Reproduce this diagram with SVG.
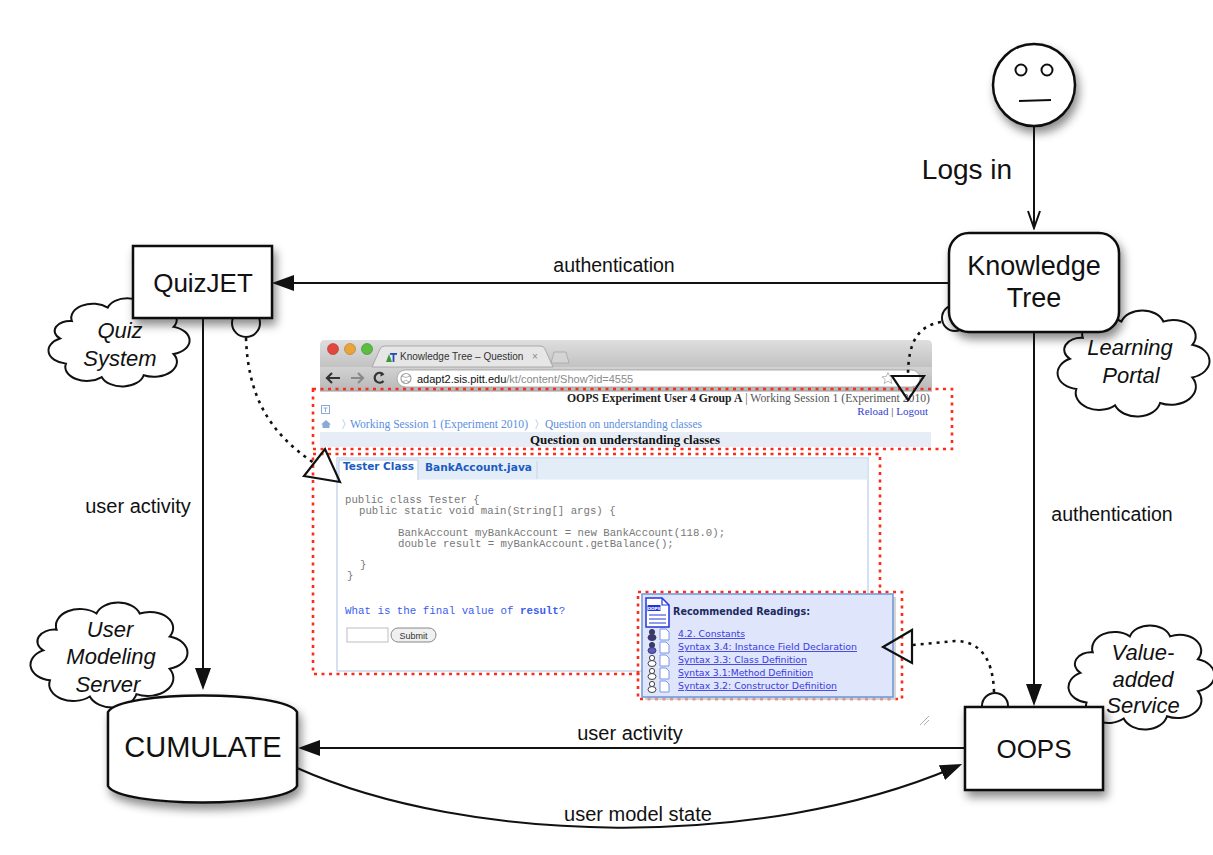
<svg xmlns="http://www.w3.org/2000/svg" width="1213" height="855" viewBox="0 0 1213 855">
  <defs>
    <style>
      .node { fill: #fff; stroke: #111; stroke-width: 2.5; }
      .cloud { fill: #fff; stroke: #111; stroke-width: 2; vector-effect: non-scaling-stroke; }
      .bump { fill: #fff; stroke: #111; stroke-width: 2; }
      .conn { fill: none; stroke: #111; stroke-width: 2; }
      .dots { fill: none; stroke: #111; stroke-width: 2.6; stroke-dasharray: 3 5; }
      .tri { fill: none; stroke: #111; stroke-width: 2.2; stroke-linejoin: miter; }
      .lbl { font-family: "Liberation Sans", Arial, sans-serif; fill: #111; text-anchor: middle; }
      .nodeText { font-family: "Liberation Sans", Arial, sans-serif; fill: #111; text-anchor: middle; }
      .cloudText { font-family: "Liberation Sans", Arial, sans-serif; font-style: italic; font-size: 22px; fill: #111; text-anchor: middle; }
      .redbox { fill: none; stroke: #ff2a1a; stroke-width: 2.6; stroke-dasharray: 3 4.5; }
      .serif { font-family: "Liberation Serif", "Times New Roman", serif; }
      .mono { font-family: "Liberation Mono", "Courier New", monospace; }
      .link { font-family: "DejaVu Sans", Verdana, sans-serif; font-size: 9px; fill: #3a3ae0; text-decoration: underline; }
    </style>
    <filter id="shadow" x="-30%" y="-30%" width="170%" height="180%">
      <feDropShadow dx="3" dy="6" stdDeviation="5" flood-color="#000" flood-opacity="0.45"/>
    </filter>
    <linearGradient id="titleGrad" x1="0" y1="0" x2="0" y2="1">
      <stop offset="0" stop-color="#dedede"/>
      <stop offset="1" stop-color="#c2c2c2"/>
    </linearGradient>
    <linearGradient id="toolGrad" x1="0" y1="0" x2="0" y2="1">
      <stop offset="0" stop-color="#d2d2d2"/>
      <stop offset="1" stop-color="#b8b8b8"/>
    </linearGradient>
    <marker id="head" markerUnits="userSpaceOnUse" markerWidth="24" markerHeight="18" refX="12" refY="8" orient="auto">
      <path d="M0,0 L22,8 L0,16 Z" fill="#111"/>
    </marker>
    <marker id="vhead" markerUnits="userSpaceOnUse" markerWidth="20" markerHeight="14" refX="18" refY="6.5" orient="auto">
      <path d="M1,0.5 L18,6.5 L1,12.5" fill="none" stroke="#111" stroke-width="2"/>
    </marker>
    <path id="cloudShape" class="cloud" d="M20,28 A14.5,14.5 0 0 1 44,14 A13.6,13.6 0 0 1 70,14 A14,14 0 0 1 88,34 A14.5,14.5 0 0 1 88,62 A15.5,15.5 0 0 1 68,84 A14.6,14.6 0 0 1 40,86 A14.5,14.5 0 0 1 16,72 A13.8,13.8 0 0 1 12,46 A10.3,10.3 0 0 1 20,28 Z"/>
  </defs>

  <rect width="1213" height="855" fill="#fff"/>

  <!-- role clouds -->
  <g id="cloud-quiz-system">
    <use href="#cloudShape" transform="translate(42,294) scale(1.495,0.967)"/>
    <text class="cloudText" x="120" y="338">Quiz</text>
    <text class="cloudText" x="120" y="366">System</text>
  </g>
  <g id="cloud-user-modeling">
    <use href="#cloudShape" transform="translate(23.3,597.4) scale(1.663,1.152)"/>
    <text class="cloudText" x="110" y="637">User</text>
    <text class="cloudText" x="111" y="664">Modeling</text>
    <text class="cloudText" x="108" y="692">Server</text>
  </g>
  <g id="cloud-learning-portal">
    <use href="#cloudShape" transform="translate(1050.6,305.3) scale(1.61,1.163)"/>
    <text class="cloudText" x="1130" y="355">Learning</text>
    <text class="cloudText" x="1131" y="383">Portal</text>
  </g>
  <g id="cloud-value-added">
    <use href="#cloudShape" transform="translate(1061.8,620.4) scale(1.547,1.141)"/>
    <text class="cloudText" x="1143" y="660">Value-</text>
    <text class="cloudText" x="1143" y="687">added</text>
    <text class="cloudText" x="1143" y="713">Service</text>
  </g>

  <!-- interface sockets -->
  <g id="sockets">
    <circle class="bump" cx="955" cy="318" r="13"/>
    <circle class="bump" cx="246" cy="323" r="14"/>
    <circle class="bump" cx="995" cy="706" r="13"/>
  </g>

  <!-- browser window with the Knowledge Tree page -->
  <g id="browser">
    <rect x="320" y="391" width="612" height="337" fill="#fff"/>
    <path d="M320,367 L320,345 Q320,340 325,340 L927,340 Q932,340 932,345 L932,367 Z" fill="url(#titleGrad)"/>
    <rect x="320" y="367" width="612" height="24" fill="url(#toolGrad)"/>
    <line x1="320" y1="391" x2="932" y2="391" stroke="#9a9a9a" stroke-width="1"/>
    <circle cx="333" cy="349" r="5.5" fill="#e2463c" stroke="#a33" stroke-width="0.6"/>
    <circle cx="350" cy="349" r="5.5" fill="#eba43a" stroke="#a73" stroke-width="0.6"/>
    <circle cx="367" cy="349" r="5.5" fill="#5cbd3e" stroke="#383" stroke-width="0.6"/>
    <path d="M372,367 L380,349 Q381,346 385,346 L540,346 Q544,346 545,349 L553,367 Z" fill="#e6e6e6" stroke="#9c9c9c" stroke-width="0.8"/>
    <path d="M386,362 L389,354 L392,362 Z" fill="#3a9a3a"/>
    <rect x="390" y="353" width="7" height="1.8" fill="#2250b0"/>
    <rect x="392.6" y="353" width="1.8" height="9" fill="#2250b0"/>
    <text x="400" y="360" font-family="Liberation Sans, Arial, sans-serif" font-size="10" fill="#333">Knowledge Tree – Question</text>
    <text x="535" y="360" font-family="Liberation Sans, Arial, sans-serif" font-size="10" fill="#888" text-anchor="middle">×</text>
    <path d="M551,363 L554,352 L566,352 L569,363 Z" fill="#d4d4d4" stroke="#a4a4a4" stroke-width="0.8"/>
    <path d="M340,378 L327,378 M332,373 L327,378 L332,383" fill="none" stroke="#333" stroke-width="2.2"/>
    <path d="M351,378 L363,378 M358,373 L363,378 L358,383" fill="none" stroke="#8a8a8a" stroke-width="2.2"/>
    <path d="M383,374 A5,5 0 1 0 383.5,381" fill="none" stroke="#333" stroke-width="2.2"/>
    <path d="M380.5,371.5 L384.5,374.5 L380.5,376.5 Z" fill="#333"/>
    <rect x="397" y="370" width="523" height="17" rx="8.5" fill="#fff" stroke="#9a9a9a" stroke-width="0.8"/>
    <circle cx="406" cy="378.5" r="5" fill="none" stroke="#a0a0a0" stroke-width="1.2"/>
    <path d="M402,376 Q406,379 410,376 M403,381.5 Q406,379 409.5,382" fill="none" stroke="#a0a0a0" stroke-width="0.8"/>
    <text x="417" y="382.5" font-family="Liberation Sans, Arial, sans-serif" font-size="11"><tspan fill="#111">adapt2.sis.pitt.edu</tspan><tspan fill="#8a8a8a">/kt/content/Show?id=4555</tspan></text>
    <path d="M888,372.5 L889.8,376.5 L894,376.8 L890.8,379.5 L891.8,383.5 L888,381.3 L884.2,383.5 L885.2,379.5 L882,376.8 L886.2,376.5 Z" fill="none" stroke="#b0b0b0" stroke-width="0.9"/>

    <!-- page header -->
    <text class="serif" x="930" y="402" text-anchor="end" font-size="11.5" textLength="363" lengthAdjust="spacingAndGlyphs"><tspan font-weight="bold" fill="#222">OOPS Experiment User 4 Group A</tspan><tspan fill="#555"> | Working Session 1 (Experiment 2010)</tspan></text>
    <text class="serif" x="928" y="415" text-anchor="end" font-size="11" fill="#3340d0">Reload <tspan fill="#333">|</tspan> Logout</text>
    <rect x="321.5" y="405.5" width="8" height="8" fill="#fff" stroke="#8aaad8" stroke-width="1"/>
    <path d="M323.5,408 L327.5,408 M325.5,408 L325.5,412" stroke="#8aaad8" stroke-width="1"/>
    <path d="M321,424.5 L326,420 L331,424.5 L329.5,424.5 L329.5,428 L322.5,428 L322.5,424.5 Z" fill="#8aaad8"/>
    <text class="serif" x="341" y="428" font-size="11" fill="#6a98e0">〉</text>
    <text class="serif" x="350" y="428" font-size="11.5" fill="#5b8ee0" textLength="178" lengthAdjust="spacingAndGlyphs">Working Session 1 (Experiment 2010)</text>
    <text class="serif" x="534" y="428" font-size="11" fill="#6a98e0">〉</text>
    <text class="serif" x="545" y="428" font-size="11.5" fill="#5b8ee0" textLength="157" lengthAdjust="spacingAndGlyphs">Question on understanding classes</text>
    <rect x="320" y="432" width="611" height="15" fill="#e6edf6"/>
    <text class="serif" x="625" y="443.5" text-anchor="middle" font-size="12.5" font-weight="bold" fill="#111" textLength="190" lengthAdjust="spacingAndGlyphs">Question on understanding classes</text>

    <!-- question panel -->
    <rect x="337" y="458" width="531" height="213" fill="#fff" stroke="#b9cde6" stroke-width="1.2"/>
    <rect x="337.6" y="458.6" width="529.8" height="21" fill="#e3edf8"/>
    <path d="M339,480 L339,460 L418,460 L418,480" fill="#fff" stroke="#b9cde6" stroke-width="1"/>
    <line x1="537" y1="461" x2="537" y2="479" stroke="#c5d5ea" stroke-width="1"/>
    <text x="343" y="470" font-family="DejaVu Sans, Verdana, sans-serif" font-size="10" font-weight="bold" fill="#1b5cc0" textLength="71" lengthAdjust="spacingAndGlyphs">Tester Class</text>
    <text x="425" y="471" font-family="DejaVu Sans, Verdana, sans-serif" font-size="10.5" font-weight="bold" fill="#1b5cc0" textLength="107" lengthAdjust="spacingAndGlyphs">BankAccount.java</text>
    <g class="mono" font-size="10.7" fill="#777">
      <text x="345" y="503">public class Tester {</text>
      <text x="359" y="514">public static void main(String[] args) {</text>
      <text x="398" y="536">BankAccount myBankAccount = new BankAccount(118.0);</text>
      <text x="398" y="547">double result = myBankAccount.getBalance();</text>
      <text x="360" y="568">}</text>
      <text x="347" y="579">}</text>
    </g>
    <text class="mono" x="345" y="614" font-size="10.8" fill="#3b5cf0">What is the final value of <tspan font-weight="bold">result</tspan>?</text>
    <rect x="347" y="628" width="41" height="14" fill="#fff" stroke="#bdbdbd" stroke-width="1"/>
    <rect x="391" y="628" width="45" height="14" rx="7" fill="#f0f0f0" stroke="#888" stroke-width="1"/>
    <text x="413.5" y="638.5" font-family="Liberation Sans, Arial, sans-serif" font-size="9" fill="#333" text-anchor="middle">Submit</text>
    <path d="M920,725 L929,716 M924,725 L929,720" stroke="#b0b0b0" stroke-width="1"/>

    <!-- highlighted regions -->
    <rect class="redbox" x="313" y="389" width="639" height="60"/>
    <rect class="redbox" x="313" y="454" width="567" height="220"/>

    <!-- recommended readings panel -->
    <rect class="redbox" x="638" y="592" width="264" height="107"/>
    <rect x="645" y="597" width="251" height="103" fill="#c4c4c4" opacity="0.7"/>
    <rect x="642" y="594" width="251" height="103" fill="#dfe5fb" stroke="#6f95d8" stroke-width="1.5"/>
    <path d="M646,598 L662,598 L669,605 L669,627 L646,627 Z" fill="#fff" stroke="#2236dd" stroke-width="1.5"/>
    <path d="M662,598 L662,605 L669,605" fill="none" stroke="#2236dd" stroke-width="1.2"/>
    <rect x="647.5" y="605" width="13" height="6" fill="#2236dd"/>
    <text x="654" y="609.6" font-family="DejaVu Sans, sans-serif" font-size="4.2" font-weight="bold" fill="#fff" text-anchor="middle">OOPS</text>
    <path d="M649,615 L666,615 M649,619 L666,619 M649,623 L666,623" stroke="#2236dd" stroke-width="1.2"/>
    <text x="673" y="615" font-family="DejaVu Sans, Verdana, sans-serif" font-size="10" font-weight="bold" fill="#1b2b60" textLength="137" lengthAdjust="spacingAndGlyphs">Recommended Readings:</text>
    <g id="reading-icons" stroke-width="1">
      <g transform="translate(0,635)">
        <circle cx="652" cy="-3" r="2.6" fill="#39396a" stroke="#39396a"/>
        <ellipse cx="652" cy="2.5" rx="4" ry="3" fill="#39396a" stroke="#39396a"/>
        <path d="M660,-6 L666,-6 L669,-3 L669,5 L660,5 Z" fill="#fff" stroke="#7a95e6"/>
      </g>
      <g transform="translate(0,648)">
        <circle cx="652" cy="-3" r="2.6" fill="#39396a" stroke="#39396a"/>
        <ellipse cx="652" cy="2.5" rx="4" ry="3" fill="#5b5bc8" stroke="#39396a"/>
        <path d="M660,-6 L666,-6 L669,-3 L669,5 L660,5 Z" fill="#fff" stroke="#7a95e6"/>
      </g>
      <g transform="translate(0,661)">
        <circle cx="652" cy="-3" r="2.6" fill="#fff" stroke="#444"/>
        <ellipse cx="652" cy="2.5" rx="4" ry="3" fill="#fff" stroke="#444"/>
        <path d="M660,-6 L666,-6 L669,-3 L669,5 L660,5 Z" fill="#fff" stroke="#7a95e6"/>
      </g>
      <g transform="translate(0,674)">
        <circle cx="652" cy="-3" r="2.6" fill="#fff" stroke="#444"/>
        <ellipse cx="652" cy="2.5" rx="4" ry="3" fill="#fff" stroke="#444"/>
        <path d="M660,-6 L666,-6 L669,-3 L669,5 L660,5 Z" fill="#fff" stroke="#7a95e6"/>
      </g>
      <g transform="translate(0,687)">
        <circle cx="652" cy="-3" r="2.6" fill="#fff" stroke="#444"/>
        <ellipse cx="652" cy="2.5" rx="4" ry="3" fill="#fff" stroke="#444"/>
        <path d="M660,-6 L666,-6 L669,-3 L669,5 L660,5 Z" fill="#fff" stroke="#7a95e6"/>
      </g>
    </g>
    <text class="link" x="678" y="637" textLength="67" lengthAdjust="spacingAndGlyphs">4.2. Constants</text>
    <text class="link" x="678" y="650" textLength="179" lengthAdjust="spacingAndGlyphs">Syntax 3.4: Instance Field Declaration</text>
    <text class="link" x="678" y="663" textLength="129" lengthAdjust="spacingAndGlyphs">Syntax 3.3: Class Definition</text>
    <text class="link" x="678" y="676" textLength="135" lengthAdjust="spacingAndGlyphs">Syntax 3.1:Method Definition</text>
    <text class="link" x="678" y="689" textLength="159" lengthAdjust="spacingAndGlyphs">Syntax 3.2: Constructor Definition</text>
  </g>

  <!-- nodes -->
  <g id="user-face" filter="url(#shadow)">
    <circle cx="1034" cy="85" r="41" fill="#fff" stroke="#111" stroke-width="2.5"/>
    <circle cx="1021" cy="70" r="5.5" fill="#fff" stroke="#111" stroke-width="2"/>
    <circle cx="1047" cy="70" r="5.5" fill="#fff" stroke="#111" stroke-width="2"/>
    <line x1="1019" y1="101" x2="1051" y2="100" stroke="#111" stroke-width="2.2"/>
  </g>
  <g id="knowledge-tree">
    <rect class="node" x="949" y="233" width="170" height="99" rx="20" filter="url(#shadow)"/>
    <text class="nodeText" x="1034" y="275" font-size="27">Knowledge</text>
    <text class="nodeText" x="1034" y="307" font-size="27">Tree</text>
  </g>
  <g id="quizjet">
    <rect class="node" x="133" y="246" width="139" height="72" filter="url(#shadow)"/>
    <text class="nodeText" x="203" y="292" font-size="26">QuizJET</text>
  </g>
  <g id="cumulate">
    <path class="node" d="M108,712 C120,690 285,690 297,712 L297,786 C285,808 120,808 108,786 Z" filter="url(#shadow)"/>
    <text class="nodeText" x="203" y="757" font-size="29">CUMULATE</text>
  </g>
  <g id="oops">
    <rect class="node" x="965" y="707" width="138" height="83" filter="url(#shadow)"/>
    <text class="nodeText" x="1034" y="758" font-size="26">OOPS</text>
  </g>

  <!-- connectors -->
  <g id="connectors">
    <path class="conn" d="M1034,127 L1034,228" marker-end="url(#vhead)"/>
    <path class="conn" d="M949,283 L282,283" marker-end="url(#head)"/>
    <path class="conn" d="M203,318 L203,680" marker-end="url(#head)"/>
    <path class="conn" d="M1034,332 L1034,696" marker-end="url(#head)"/>
    <path class="conn" d="M965,748 L308,748" marker-end="url(#head)"/>
    <path class="conn" d="M297,768 C470,845 760,850 953,768" marker-end="url(#head)"/>

    <path class="dots" d="M246,338 C248,395 268,432 314,463"/>
    <polygon class="tri" points="340,482 304,476 325,449"/>
    <path class="dots" d="M941,322 C918,326 908,342 908,376"/>
    <polygon class="tri" points="892,376 924,376 908,400"/>
    <path class="dots" d="M994,692 C993,656 978,641 955,641 L913,645"/>
    <polygon class="tri" points="883,647 912,630 912,663"/>
  </g>

  <!-- connector labels -->
  <g id="labels">
    <text class="lbl" x="967" y="179" font-size="28">Logs in</text>
    <text class="lbl" x="614" y="272" font-size="19.5">authentication</text>
    <text class="lbl" x="138" y="513" font-size="20">user activity</text>
    <text class="lbl" x="1112" y="521" font-size="19.5">authentication</text>
    <text class="lbl" x="630" y="740" font-size="20">user activity</text>
    <text class="lbl" x="638" y="821" font-size="20">user model state</text>
  </g>
</svg>
